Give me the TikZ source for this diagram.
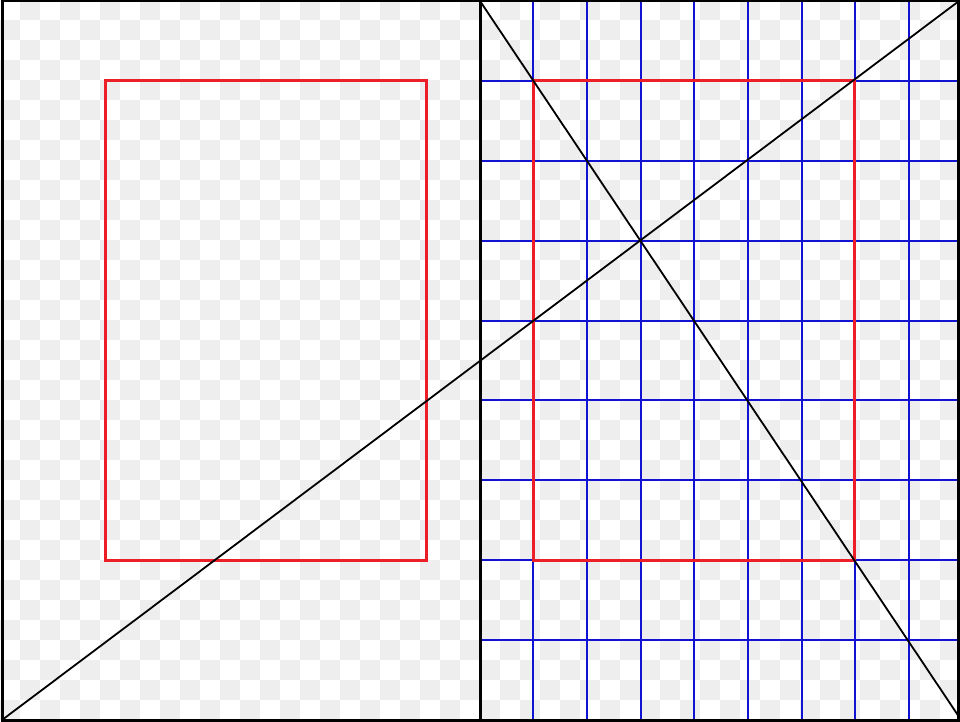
\documentclass[tikz,border=0pt]{standalone}
\definecolor{chk}{RGB}{238,238,238}
\definecolor{gridblue}{RGB}{18,18,210}
\definecolor{marginred}{RGB}{236,30,40}
\tikzset{
  checker/.style={fill=chk},
  gridline/.style={draw=gridblue, line width=2pt},
  textblock/.style={draw=marginred, line width=3pt},
  pageedge/.style={draw=black, line width=3pt},
  diag/.style={draw=black, line width=1.8pt},
}
\begin{document}
\begin{tikzpicture}[x=1pt,y=-1pt]
\useasboundingbox (0,0) rectangle (960,722);
\clip (0,0) rectangle (960,722);
\fill[white] (0,0) rectangle (960,722);
% checkerboard (transparency pattern)
\foreach \r in {0,2,...,36}{\foreach \c in {1,3,...,47}{\fill[checker] (\c*20,\r*20) rectangle ++(20,20);}}
\foreach \r in {1,3,...,35}{\foreach \c in {0,2,...,46}{\fill[checker] (\c*20,\r*20) rectangle ++(20,20);}}
% named corners
\coordinate (TL) at (2,1);
\coordinate (BL) at (2,720);
\coordinate (TM) at (480,1);
\coordinate (BM) at (480,720);
\coordinate (TR) at (958.5,1);
\coordinate (BR) at (958.5,720);
% blue grid on right page
\foreach \k in {1,...,8}{\draw[gridline] (479.6+\k*53.67,1) -- (479.6+\k*53.67,720);}
\foreach \k in {1,...,8}{\draw[gridline] (480,1+\k*79.89) -- (960,1+\k*79.89);}
% text blocks
\draw[textblock] (533.3,80.9) rectangle (854.3,560.3);
\draw[textblock] (105,80.9) rectangle (426.5,560.3);
% diagonals
\draw[diag] (BL) -- (959,1);
\draw[diag] (TM) -- (961.5,720.5);
% page edges
\draw[pageedge] (TL) rectangle (BR);
\draw[pageedge] (TM) -- (BM);
\end{tikzpicture}
\end{document}
